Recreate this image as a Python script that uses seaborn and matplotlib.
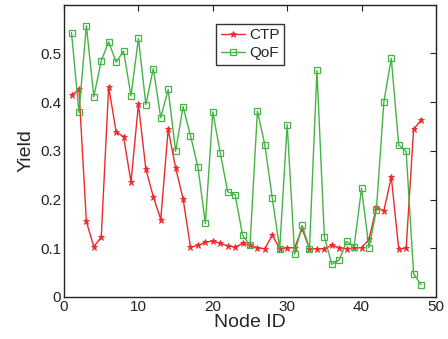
import matplotlib
matplotlib.use("Agg")
import matplotlib.pyplot as plt
import seaborn as sns
import pandas as pd

node_id = list(range(1, 49))

ctp = [0.414, 0.426, 0.155, 0.103, 0.123, 0.432, 0.339, 0.329, 0.236, 0.396,
       0.262, 0.206, 0.159, 0.344, 0.265, 0.202, 0.102, 0.106, 0.112, 0.115,
       0.110, 0.105, 0.102, 0.110, 0.106, 0.101, 0.099, 0.127, 0.099, 0.101,
       0.101, 0.140, 0.099, 0.099, 0.099, 0.106, 0.101, 0.099, 0.101, 0.101,
       0.118, 0.184, 0.177, 0.246, 0.099, 0.100, 0.344, 0.363]

qof = [0.543, 0.379, 0.557, 0.411, 0.485, 0.524, 0.482, 0.505, 0.413, 0.531,
       0.395, 0.469, 0.368, 0.426, 0.299, 0.391, 0.331, 0.267, 0.151, 0.380,
       0.296, 0.216, 0.210, 0.127, 0.106, 0.382, 0.312, 0.203, 0.099, 0.354,
       0.088, 0.147, 0.099, 0.465, 0.124, 0.067, 0.076, 0.114, 0.103, 0.223,
       0.101, 0.179, 0.400, 0.490, 0.312, 0.299, 0.048, 0.025]

x_ticks = [0, 10, 20, 30, 40, 50]
y_ticks = [0, 0.1, 0.2, 0.3, 0.4, 0.5]
y_labels = ["0", "0.1", "0.2", "0.3", "0.4", "0.5"]

df = pd.DataFrame({"node": node_id, "CTP": ctp, "QoF": qof})

sns.set_style("white")
plt.rcParams["font.family"] = ["Liberation Sans", "DejaVu Sans"]

fig = plt.figure(figsize=(4.48, 3.39), dpi=100)
ax = fig.add_axes([0.143, 0.124, 0.830, 0.862])

sns.lineplot(data=df, x="node", y="CTP", ax=ax, color="#ee2a2a", lw=1.0,
             marker="*", markersize=4.5, markeredgecolor="#ee2a2a",
             markeredgewidth=0.6, label="CTP")
sns.lineplot(data=df, x="node", y="QoF", ax=ax, color="#44b444", lw=1.0,
             marker="s", markersize=4, markerfacecolor="none",
             markeredgecolor="#44b444", markeredgewidth=0.9, label="QoF")

ax.set_xlim(0, 50)
ax.set_ylim(0, 0.6)
ax.set_xticks(x_ticks)
ax.set_yticks(y_ticks)
ax.set_yticklabels(y_labels)
ax.tick_params(direction="in", length=4, width=0.8, labelsize=11,
               top=True, right=True, colors="#222222", pad=2)
for s in ax.spines.values():
    s.set_linewidth(1.0)
    s.set_color("#222222")

ax.set_xlabel("Node ID", fontsize=14, labelpad=0)
ax.set_ylabel("Yield", fontsize=14, labelpad=4)

leg = ax.legend(loc="upper left", bbox_to_anchor=(0.409, 0.935), fontsize=11,
                frameon=True, fancybox=False, edgecolor="black",
                handlelength=1.6, handletextpad=0.25, borderpad=0.3,
                labelspacing=0.25, borderaxespad=0)
leg.get_frame().set_linewidth(1.0)

fig.savefig("out.png", dpi=100)
